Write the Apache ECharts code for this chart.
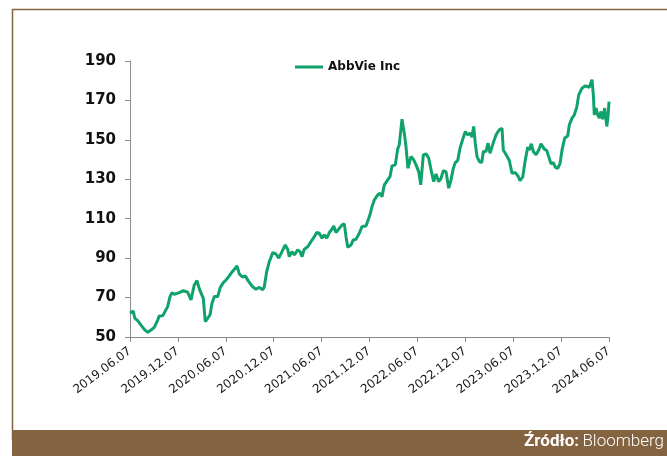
<!DOCTYPE html>
<html>
<head>
<meta charset="utf-8">
<script src="https://cdn.jsdelivr.net/npm/echarts@6/dist/echarts.min.js"></script>
<style>
html,body{margin:0;padding:0;background:#fff;}
#chart{width:667px;height:456px;}
</style>
</head>
<body>
<div id="chart"></div>
<script>
// Tick labels on the x axis (every 6 months)
var tickLabels = ['2019.06.07','2019.12.07','2020.06.07','2020.12.07','2021.06.07','2021.12.07','2022.06.07','2022.12.07','2023.06.07','2023.12.07','2024.06.07'];
// Time position of each observation, in months since 2019.06.07
var months = [0,0.41,0.59,0.96,1.38,1.79,2.22,2.63,3.04,3.47,3.67,4.10,4.42,4.72,5.01,5.26,5.55,6.18,6.68,7.23,7.43,7.64,7.85,8.05,8.39,8.61,8.77,9.02,9.18,9.43,9.73,10.02,10.27,10.56,10.99,11.31,11.69,12.03,12.36,12.65,12.94,13.19,13.40,13.69,14.12,14.44,14.87,
15.37,15.78,16.20,16.62,16.82,17.12,17.45,17.88,18.29,18.63,19.04,19.45,19.75,19.95,20.29,20.58,21.01,21.30,21.55,21.83,22.26,22.67,23.09,23.39,23.71,24.05,24.34,24.64,24.97,25.30,25.52,25.80,26.14,26.56,26.84,27.06,27.27,27.68,27.97,28.31,28.72,29.06,29.56,29.78,
30.06,30.31,30.60,31.03,31.32,31.57,31.86,32.28,32.57,32.82,33.23,33.53,33.73,34.07,34.36,34.57,34.82,35.20,35.49,35.83,36.16,36.42,36.74,37.08,37.42,37.71,38.04,38.33,38.67,38.96,39.25,39.58,39.92,40.21,40.50,40.75,41.05,41.34,41.68,42.00,42.30,42.59,42.84,43.05,43.25,43.47,43.76,44.06,44.26,44.59,44.85,
45.10,45.51,45.85,46.26,46.60,46.76,47.19,47.51,47.85,48.26,48.60,48.85,49.19,49.52,49.82,50.02,50.27,50.52,50.86,51.20,51.48,51.90,52.20,52.45,52.74,53.03,53.28,53.58,53.87,54.12,54.45,54.83,55.03,55.37,55.66,55.96,56.21,56.62,57.04,57.54,57.75,57.87,58.04,58.16,58.37,58.59,58.79,59.00,59.21,59.46,59.72,59.88,60];
// AbbVie Inc share price (USD)
var prices = [62.2,63.2,59.6,58.3,56,53.9,52.4,53.5,54.9,58.6,60.7,60.8,63.2,65.4,70.5,72.5,71.7,72.5,73.5,72.7,72.2,68.8,67.9,76.4,78.6,75.5,73.5,73,69.6,57.8,59.5,61.2,67.1,70.5,70.5,75.2,77.6,78.9,80.6,82.3,83.7,84.9,86,82,80.3,81,78.1,
75.5,74.2,75.2,73.9,75.5,83.1,88.2,92.8,92.1,90,93.3,96.7,94.5,90.8,93.3,91.6,94.2,93.3,90.8,94.5,95.8,98.4,100.9,103,102.6,100.1,101.8,100.1,103,104.7,106.3,103,104.7,106.9,107.4,100.9,95.5,96.7,99.2,99.6,102.6,106,106.3,107,
112,116.1,119.5,122.1,122.9,121.2,127.2,129.7,131.4,136.8,137.3,145.3,147.5,160.5,153.4,146.6,135.6,141.5,140.2,137.3,133.9,127.2,142.4,142.9,140.7,134.8,128.8,132.7,128.8,130.5,134.4,133.9,125.5,129.7,135.6,138.5,139.5,145.8,150.3,154.2,152.5,153.4,151.4,156.8,148.3,141.5,139,138.5,144.1,144.1,148.3,
143.2,148.6,152.5,155.1,155.9,144.9,141.9,139.5,133.1,133.4,131.7,129.3,131.1,139.9,146.3,144.9,148,144.1,142.4,144.9,148,145.3,144.6,144.1,137.8,138.5,136.1,135.6,138.1,144.9,150.9,152,157.6,161,162.7,166.6,172.8,176.2,177.4,176.7,177.1,180.5,172.8,162.7,166.1,162.7,161,164.4,160.5,166.1,156.8,161.8,169.4];
var seriesName = 'AbbVie Inc';
var sourceLabel = 'Źródło:';
var sourceName = 'Bloomberg';

var points = months.map(function (m, i) { return [m, prices[i]]; });

var chart = echarts.init(document.getElementById('chart'), null, {renderer: 'canvas'});
var brown = '#846341';
var green = '#0fa36b';
chart.setOption({
  animation: false,
  backgroundColor: '#ffffff',
  graphic: [
    {type: 'rect', z: -1, shape: {x: 12.5, y: 9.5, width: 700, height: 430}, style: {fill: 'none', stroke: brown, lineWidth: 1.5}},
    {type: 'rect', shape: {x: 12, y: 430, width: 655, height: 26}, style: {fill: brown}},
    {type: 'text', right: 3, top: 433, style: {
      text: '{b|' + sourceLabel + '} {l|' + sourceName + '}',
      rich: {
        b: {fontFamily: 'Roboto', fontWeight: 'bold', fontSize: 17, fill: '#fff'},
        l: {fontFamily: 'Roboto', fontWeight: 300, fontSize: 17, fill: '#fff'}
      }
    }}
  ],
  legend: {
    left: 290, top: 56,
    icon: 'rect',
    itemWidth: 28, itemHeight: 3, itemGap: 6,
    textStyle: {fontFamily: 'DejaVu Sans', fontWeight: 'bold', fontSize: 12, color: '#111'},
    data: [{name: seriesName, itemStyle: {color: green}}]
  },
  grid: {left: 130, right: 58, top: 61, bottom: 119, containLabel: false},
  xAxis: {
    type: 'value', min: 0, max: 60, interval: 6,
    splitLine: {show: false},
    axisLine: {show: true, lineStyle: {color: '#8c8c8c', width: 1}},
    axisTick: {show: true, length: 5, lineStyle: {color: '#8c8c8c'}},
    axisLabel: {
      rotate: 37, margin: 13,
      fontFamily: 'DejaVu Sans', fontSize: 12, color: '#1a1a1a',
      formatter: function (v) { return tickLabels[Math.round(v / 6)] || ''; }
    }
  },
  yAxis: {
    type: 'value', min: 50, max: 190, interval: 20,
    splitLine: {show: false},
    axisLine: {show: true, lineStyle: {color: '#8c8c8c', width: 1}},
    axisTick: {show: true, length: 5, lineStyle: {color: '#8c8c8c'}},
    axisLabel: {margin: 14, fontFamily: 'DejaVu Sans', fontWeight: 'bold', fontSize: 15, color: '#111'}
  },
  series: [{
    name: seriesName,
    type: 'line',
    data: points,
    symbol: 'none',
    smooth: false,
    lineStyle: {color: green, width: 3},
    itemStyle: {color: green}
  }]
});
</script>
</body>
</html>
